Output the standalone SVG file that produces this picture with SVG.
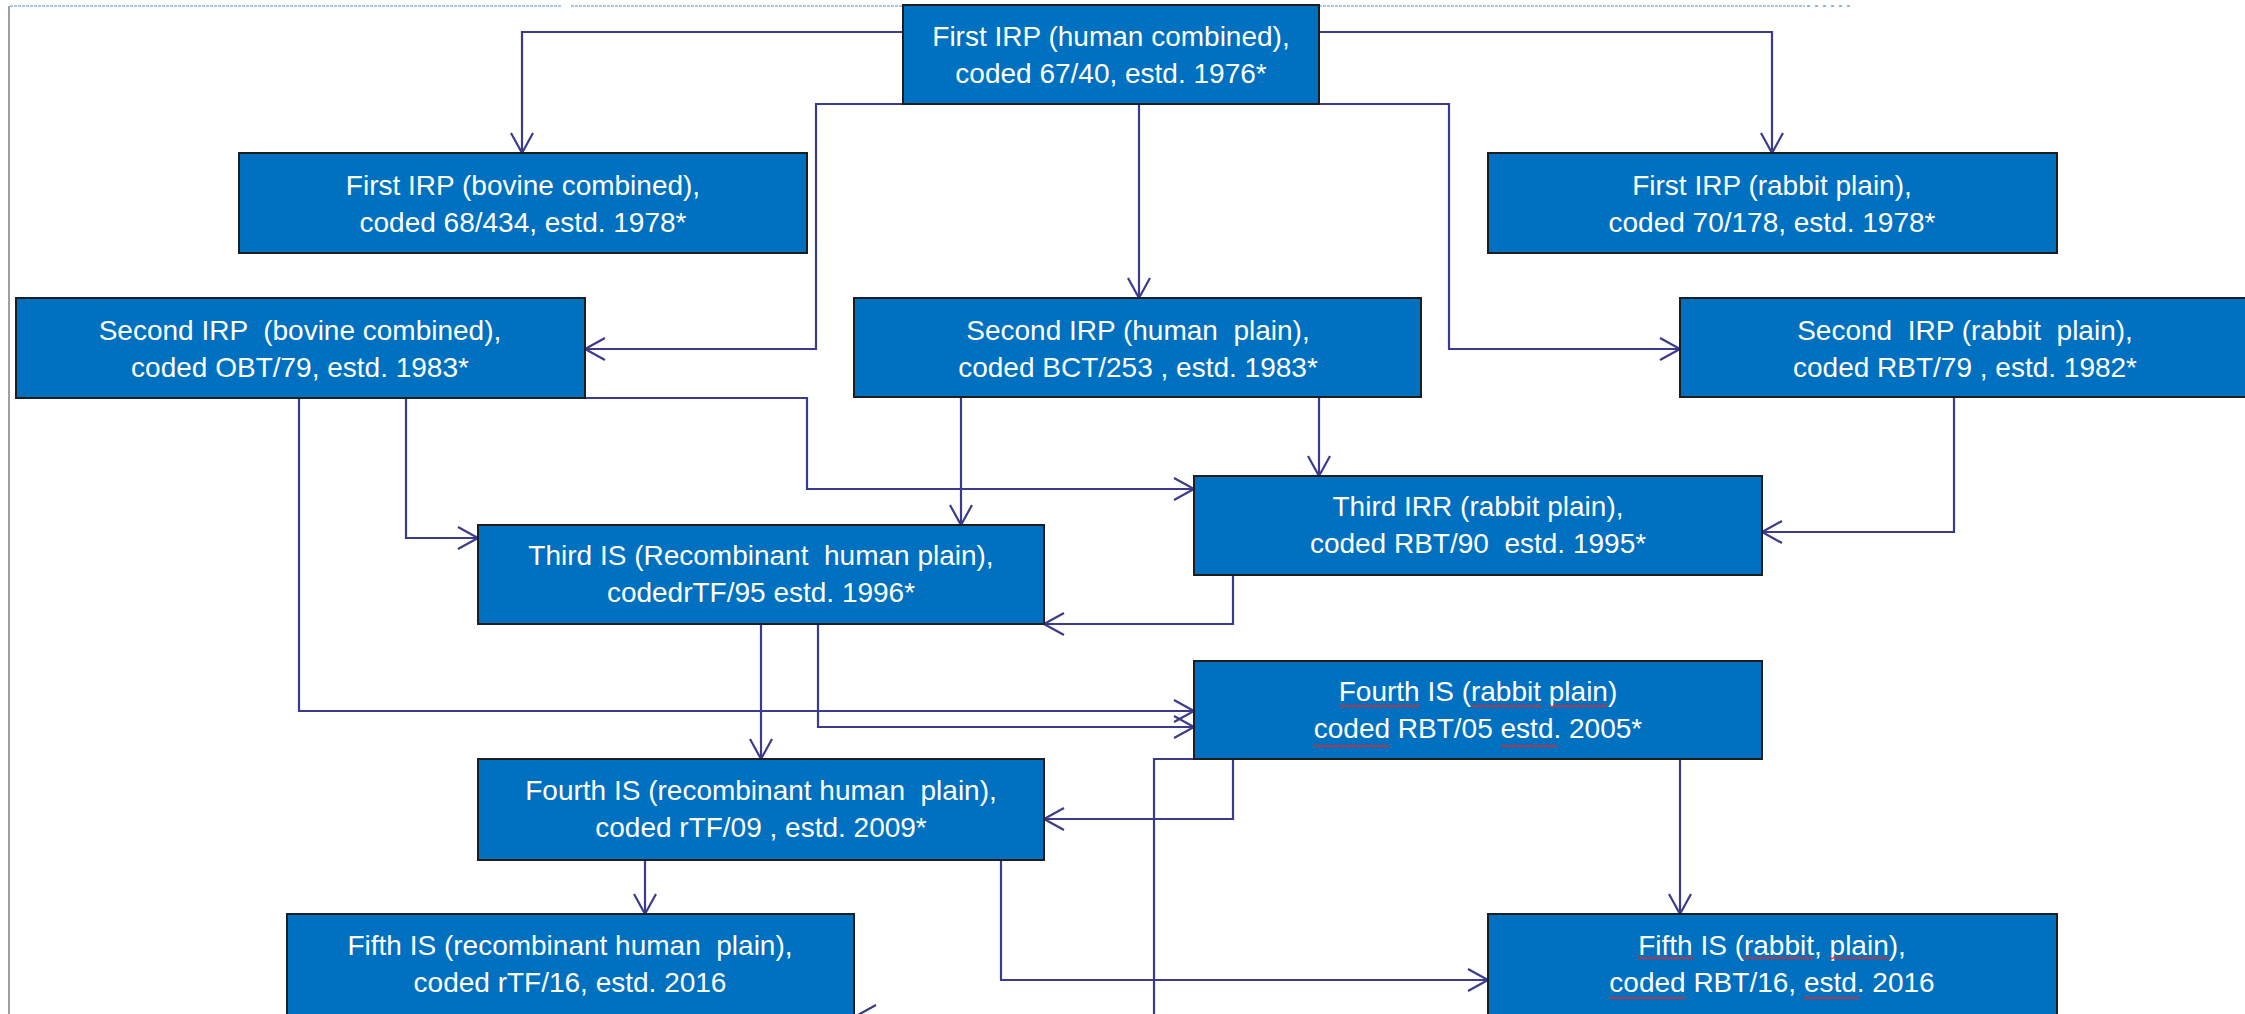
<svg xmlns="http://www.w3.org/2000/svg" width="2245" height="1014" viewBox="0 0 2245 1014">
<defs>
<style>
.node rect{fill:#0070C0;stroke:#1e1e1e;stroke-width:2}
.node text{fill:#ffffff;font-family:"Liberation Sans",Arial,sans-serif;font-size:28px;text-anchor:middle;white-space:pre}
.conn path{fill:none;stroke:#3b3a8c;stroke-width:2.2;marker-end:url(#ah)}
.node rect.sp{fill:url(#wave);stroke:none}
</style>
<marker id="ah" markerUnits="userSpaceOnUse" markerWidth="30" markerHeight="30" viewBox="-24 -15 26 30" refX="0" refY="0" orient="auto">
<path d="M-20,-11 L0,0 L-20,11" fill="none" stroke="#3b3a8c" stroke-width="2.2"/>
</marker>
<pattern id="wave" width="4" height="4" patternUnits="userSpaceOnUse">
<path d="M0,3 L2,1 L4,3" fill="none" stroke="#e02828" stroke-width="1.2"/>
</pattern>
</defs>
<rect x="0" y="0" width="2245" height="1014" fill="#ffffff"/>
<g id="frame">
<line x1="10" y1="6" x2="561" y2="6" stroke="#8fb4df" stroke-width="1.5" stroke-dasharray="3 1"/>
<line x1="571" y1="6" x2="1805" y2="6" stroke="#8fb4df" stroke-width="1.5" stroke-dasharray="3 1"/>
<line x1="1807" y1="6" x2="1852" y2="6" stroke="#8fb4df" stroke-width="2" stroke-dasharray="3 5"/>
<line x1="9" y1="6" x2="9" y2="1014" stroke="#a0a0a0" stroke-width="2"/>
</g>
<g id="connectors" class="conn">
<path d="M903,32 H522 V153"/>
<path d="M1319,32 H1772 V153"/>
<path d="M1139,104 V298"/>
<path d="M1111,104 H816 V349 H585"/>
<path d="M1111,104 H1449 V349 H1680"/>
<path d="M299,398 V711 H1194"/>
<path d="M406,398 V538 H478"/>
<path d="M585,398 H807 V489 H1194"/>
<path d="M961,397 V525"/>
<path d="M1319,397 V476"/>
<path d="M1954,397 V532 H1762"/>
<path d="M1233,575 V624 H1044"/>
<path d="M761,624 V759"/>
<path d="M818,624 V727 H1194"/>
<path d="M1233,759 V819 H1044"/>
<path d="M1194,759 H1154 V1016 H856"/>
<path d="M1680,759 V914"/>
<path d="M645,860 V914"/>
<path d="M1001,860 V980 H1488"/>
</g>
<g id="n1" class="node"><rect x="903" y="5" width="416" height="99"/><text x="1111" y="46">First IRP (human combined),</text><text x="1111" y="83">coded 67/40, estd. 1976*</text></g>
<g id="n2" class="node"><rect x="239" y="153" width="568" height="100"/><text x="523" y="195">First IRP (bovine combined),</text><text x="523" y="232">coded 68/434, estd. 1978*</text></g>
<g id="n3" class="node"><rect x="1488" y="153" width="569" height="100"/><text x="1772" y="195">First IRP (rabbit plain),</text><text x="1772" y="232">coded 70/178, estd. 1978*</text></g>
<g id="n4" class="node"><rect x="16" y="298" width="569" height="100"/><text x="300" y="340">Second IRP  (bovine combined),</text><text x="300" y="377">coded OBT/79, estd. 1983*</text></g>
<g id="n5" class="node"><rect x="854" y="298" width="567" height="99"/><text x="1138" y="340">Second IRP (human  plain),</text><text x="1138" y="377">coded BCT/253 , estd. 1983*</text></g>
<g id="n6" class="node"><rect x="1680" y="298" width="569" height="99"/><text x="1965" y="340">Second  IRP (rabbit  plain),</text><text x="1965" y="377">coded RBT/79 , estd. 1982*</text></g>
<g id="n7" class="node"><rect x="478" y="525" width="566" height="99"/><text x="761" y="565">Third IS (Recombinant  human plain),</text><text x="761" y="602">codedrTF/95 estd. 1996*</text></g>
<g id="n8" class="node"><rect x="1194" y="476" width="568" height="99"/><text x="1478" y="516">Third IRR (rabbit plain),</text><text x="1478" y="553">coded RBT/90  estd. 1995*</text></g>
<g id="n9" class="node"><rect x="1194" y="661" width="568" height="98"/><text x="1478" y="701">Fourth IS (rabbit plain)</text><text x="1478" y="738">coded RBT/05 estd. 2005*</text>
<rect class="sp" x="1339" y="704" width="81" height="4"/><rect class="sp" x="1471" y="704" width="70" height="4"/><rect class="sp" x="1549" y="704" width="59" height="4"/>
<rect class="sp" x="1314" y="744" width="76" height="4"/><rect class="sp" x="1501" y="744" width="56" height="4"/></g>
<g id="n10" class="node"><rect x="478" y="759" width="566" height="101"/><text x="761" y="800">Fourth IS (recombinant human  plain),</text><text x="761" y="837">coded rTF/09 , estd. 2009*</text></g>
<g id="n11" class="node"><rect x="287" y="914" width="567" height="110"/><text x="570" y="955">Fifth IS (recombinant human  plain),</text><text x="570" y="992">coded rTF/16, estd. 2016</text></g>
<g id="n12" class="node"><rect x="1488" y="914" width="569" height="110"/><text x="1772" y="955">Fifth IS (rabbit, plain),</text><text x="1772" y="992">coded RBT/16, estd. 2016</text>
<rect class="sp" x="1638" y="956" width="55" height="4"/><rect class="sp" x="1744" y="956" width="70" height="4"/><rect class="sp" x="1830" y="956" width="59" height="4"/>
<rect class="sp" x="1609" y="996" width="77" height="4"/><rect class="sp" x="1804" y="996" width="56" height="4"/></g>
</svg>
